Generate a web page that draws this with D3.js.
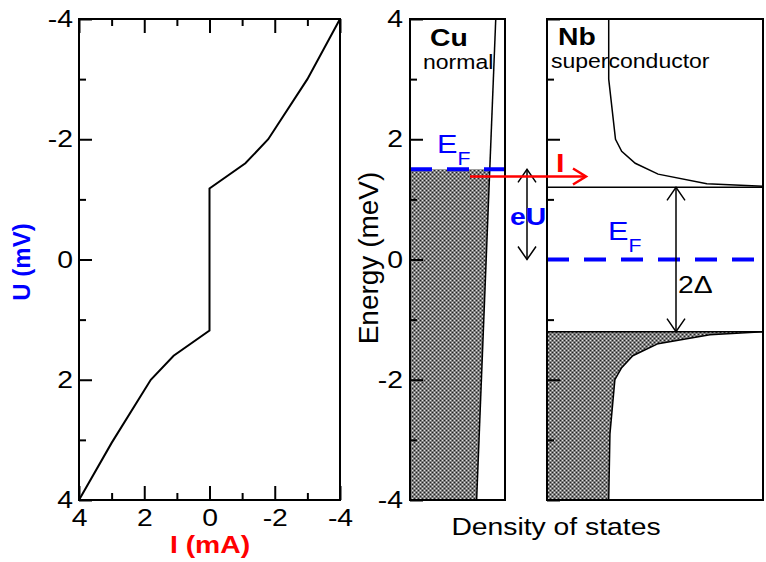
<!DOCTYPE html>
<html><head><meta charset="utf-8">
<script src="https://cdn.jsdelivr.net/npm/d3@7"></script>
<style>
body{margin:0;background:#fff}
svg{display:block}
text{font-family:"Liberation Sans",Arial,Helvetica,sans-serif}
</style>
</head><body>
<svg id="c" width="766" height="562"></svg>
<script>
// ---------- data ----------
const ivCurrent = [4, 3.0, 1.8, 1.1, 0, 0, -1.1, -1.8, -3.0, -4];
const ivVoltage = [4, 3.05, 2.0, 1.6, 1.18, -1.18, -1.6, -2.0, -3.0, -4];
const ivTicksMajor = [4, 2, 0, -2, -4];
const ivTicksMinor = [3, 1, -1, -3];
const energyTicksMajor = [4, 2, 0, -2, -4];
const energyTicksMinor = [3, 1, -1, -3];
const cuEnergy = [-4, 4];
const cuDOS = [1.08, 1.39];
const cuFermi = 1.5;
const nbGap = 1.2;
const nbFermi = 0;
const nbUpperEnergy = [4, 3.0, 2.0, 1.8, 1.6, 1.42, 1.26, 1.22];
const nbUpperDOS = [1.0, 1.0, 1.11, 1.21, 1.43, 1.80, 2.59, 3.5];
const nbLowerEnergy = [-4, -2.9, -2.0, -1.8, -1.6, -1.4, -1.25, -1.2];
const nbLowerDOS = [1.0, 1.02, 1.10, 1.21, 1.39, 1.80, 2.64, 3.5];
const currentArrowEnergy = 1.38;

// ---------- layout ----------
const SX = 1.18;
const TOP = 19, BOT = 500;
const svg = d3.select("#c");
const defs = svg.append("defs");
const pat = defs.append("pattern").attr("id","hatch").attr("width",4).attr("height",4).attr("patternUnits","userSpaceOnUse");
pat.append("rect").attr("width",4).attr("height",4).attr("fill","#7e7e7e");
[[0,0,"#222"],[2,2,"#222"],[2,0,"#e0e0e0"],[0,2,"#e0e0e0"]].forEach(([x,y,c])=>pat.append("rect").attr("x",x).attr("y",y).attr("width",1).attr("height",1).attr("fill",c));

const xIV = d3.scaleLinear([4,-4],[79,340]);
const yIV = d3.scaleLinear([-4,4],[TOP,BOT]);
const yE = d3.scaleLinear([-4,4],[BOT,TOP]);
const xCu = d3.scaleLinear([0,1.54],[410,505]);
const xNb = d3.scaleLinear([0,3.5],[547,763]);

function label(x,y,str,o={}){
  const tr = o.rotate ? `translate(${x},${y}) rotate(-90)` : `translate(${x},${y}) scale(${SX},1)`;
  const g = svg.append("g").attr("transform",tr);
  return g.append("text").text(str)
    .attr("font-size",o.size||24)
    .attr("font-weight",o.bold?"bold":"normal")
    .attr("fill",o.color||"#000")
    .attr("text-anchor",o.anchor||"start");
}

function axis(gx, fn, scale, values, size, pad, showLabels){
  const g = svg.append("g").attr("transform",gx);
  g.call(fn(scale).tickValues(values).tickSize(size).tickPadding(pad)
    .tickFormat(showLabels ? (d=>String(d)) : ""));
  g.select(".domain").remove();
  g.selectAll(".tick line").attr("stroke","#000").attr("stroke-width",2);
  g.selectAll("text").attr("font-size",24).attr("fill","#000")
    .attr("font-family","Liberation Sans, Arial, Helvetica, sans-serif");
  return g;
}

// ---------- I-V panel ----------
const ivLine = d3.line().x(i=>xIV(ivCurrent[i])).y(i=>yIV(ivVoltage[i]));
svg.append("path").attr("d",ivLine(d3.range(ivCurrent.length))).attr("fill","none").attr("stroke","#000").attr("stroke-width",2);

let g;
g = axis(`translate(79,0)`, d3.axisLeft, yIV, ivTicksMajor, -13, 6, true);
g.selectAll("text").attr("x",-6/SX).attr("transform",`scale(${SX},1)`);
axis(`translate(79,0)`, d3.axisLeft, yIV, ivTicksMinor, -7, 6, false);
axis(`translate(0,${TOP})`, d3.axisTop, xIV, ivTicksMajor, -14, 6, false);
axis(`translate(0,${TOP})`, d3.axisTop, xIV, ivTicksMinor, -7, 6, false);
g = axis(`translate(0,${BOT})`, d3.axisBottom, xIV, ivTicksMajor, -14, 9, true);
g.selectAll("text").attr("transform",`scale(${SX},1)`);
axis(`translate(0,${BOT})`, d3.axisBottom, xIV, ivTicksMinor, -7, 9, false);
svg.append("rect").attr("x",79).attr("y",TOP).attr("width",261).attr("height",BOT-TOP).attr("fill","none").attr("stroke","#000").attr("stroke-width",2);

label(30,262,"U (mV)",{bold:true,color:"#0000ff",anchor:"middle",rotate:true});
label(210,553,"I (mA)",{bold:true,color:"#ff0000",anchor:"middle"});

// ---------- Cu panel ----------
defs.append("clipPath").attr("id","cuClip").append("rect")
  .attr("x",xCu(0)).attr("y",yE(cuFermi)).attr("width",xCu(1.54)-xCu(0)).attr("height",yE(-4)-yE(cuFermi));
const cuArea = d3.area().x0(xCu(0)).x1(i=>xCu(cuDOS[i])).y(i=>yE(cuEnergy[i]));
svg.append("path").attr("d",cuArea([0,1])).attr("fill","url(#hatch)").attr("clip-path","url(#cuClip)");
const cuLine = d3.line().x(i=>xCu(cuDOS[i])).y(i=>yE(cuEnergy[i]));
svg.append("path").attr("d",cuLine([0,1])).attr("fill","none").attr("stroke","#000").attr("stroke-width",1.5);

g = axis(`translate(${xCu(0)},0)`, d3.axisLeft, yE, energyTicksMajor, -13, 7, true);
g.selectAll("text").attr("x",-7/SX).attr("transform",`scale(${SX},1)`);
axis(`translate(${xCu(0)},0)`, d3.axisLeft, yE, energyTicksMinor, -7, 6, false);

svg.append("line").attr("x1",xCu(0)).attr("x2",xCu(1.54)).attr("y1",yE(cuFermi)).attr("y2",yE(cuFermi))
  .attr("stroke","#0000ff").attr("stroke-width",4).attr("stroke-dasharray","22,15");
svg.append("rect").attr("x",xCu(0)).attr("y",TOP).attr("width",xCu(1.54)-xCu(0)).attr("height",BOT-TOP).attr("fill","none").attr("stroke","#000").attr("stroke-width",2);

label(430,45.5,"Cu",{bold:true});
label(423,68.5,"normal",{size:19.5});
let t = label(437,153,"E",{size:26,color:"#0000ff"});
t.append("tspan").text("F").attr("font-size",18).attr("dy",12);

// ---------- Nb panel ----------
const nbArea = d3.area().x0(xNb(0)).x1(i=>xNb(nbLowerDOS[i])).y(i=>yE(nbLowerEnergy[i]));
svg.append("path").attr("d",nbArea(d3.range(nbLowerDOS.length))).attr("fill","url(#hatch)");
const nbLowLine = d3.line().x(i=>xNb(nbLowerDOS[i])).y(i=>yE(nbLowerEnergy[i]));
const nbUpLine = d3.line().x(i=>xNb(nbUpperDOS[i])).y(i=>yE(nbUpperEnergy[i]));
svg.append("path").attr("d",nbLowLine(d3.range(nbLowerDOS.length))).attr("fill","none").attr("stroke","#000").attr("stroke-width",1.5);
svg.append("path").attr("d",nbUpLine(d3.range(nbUpperDOS.length))).attr("fill","none").attr("stroke","#000").attr("stroke-width",1.5);
[nbGap,-nbGap].forEach(e=>svg.append("line").attr("x1",xNb(0)).attr("x2",xNb(3.5)).attr("y1",yE(e)).attr("y2",yE(e)).attr("stroke","#000").attr("stroke-width",1.5));

axis(`translate(${xNb(0)},0)`, d3.axisLeft, yE, energyTicksMajor, -13, 6, false);
axis(`translate(${xNb(0)},0)`, d3.axisLeft, yE, energyTicksMinor, -7, 6, false);

svg.append("line").attr("x1",xNb(0)).attr("x2",xNb(3.5)).attr("y1",yE(nbFermi)).attr("y2",yE(nbFermi))
  .attr("stroke","#0000ff").attr("stroke-width",4).attr("stroke-dasharray","22,15");
svg.append("rect").attr("x",xNb(0)).attr("y",TOP).attr("width",xNb(3.5)-xNb(0)).attr("height",BOT-TOP).attr("fill","none").attr("stroke","#000").attr("stroke-width",2);

label(558,45,"Nb",{bold:true});
label(551,68,"superconductor",{size:19.5});
t = label(608,240,"E",{size:26,color:"#0000ff"});
t.append("tspan").text("F").attr("font-size",18).attr("dy",12);

// ---------- arrows ----------
function dblArrowV(x,y1,y2,color){
  svg.append("line").attr("x1",x).attr("x2",x).attr("y1",y1).attr("y2",y2).attr("stroke",color).attr("stroke-width",1.5);
  svg.append("path").attr("d",`M${x-9},${y1+13}L${x},${y1}L${x+9},${y1+13}M${x-9},${y2-13}L${x},${y2}L${x+9},${y2-13}`)
    .attr("fill","none").attr("stroke",color).attr("stroke-width",1.5);
}
dblArrowV(527, yE(cuFermi), yE(0), "#000");
dblArrowV(676, yE(nbGap), yE(-nbGap), "#000");

const ya = yE(currentArrowEnergy);
svg.append("line").attr("x1",470).attr("x2",586).attr("y1",ya).attr("y2",ya).attr("stroke","#ff0000").attr("stroke-width",2.5);
svg.append("path").attr("d",`M573,${ya-8}L586,${ya}L573,${ya+8}`).attr("fill","none").attr("stroke","#ff0000").attr("stroke-width",2.5);

label(556,172,"I",{bold:true,size:26,color:"#ff0000"});
label(510,225,"eU",{bold:true,size:24,color:"#0000ff"});
label(678,293,"2Δ",{size:24});

// ---------- shared labels ----------
label(378,258,"Energy (meV)",{size:28,anchor:"middle",rotate:true});
label(556,535,"Density of states",{size:24,anchor:"middle"});
</script>
</body></html>
